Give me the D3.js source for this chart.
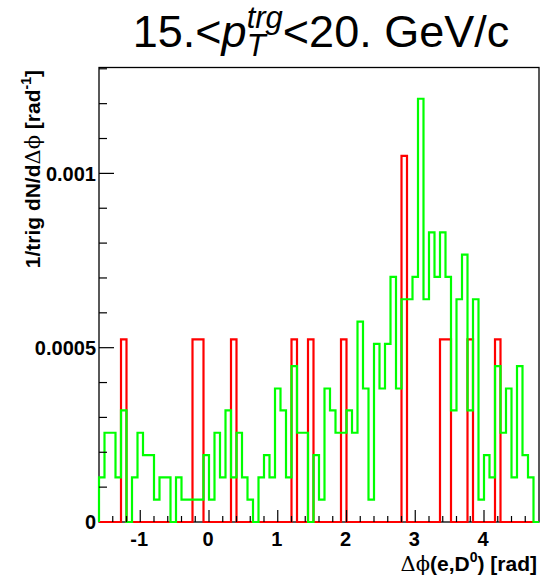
<!DOCTYPE html>
<html>
<head>
<meta charset="utf-8">
<script src="https://cdn.jsdelivr.net/npm/d3@7"></script>
<style>
  body { margin: 0; background: #fff; }
  text { font-family: "Liberation Sans", Arial, Helvetica, sans-serif; }
  .bold { font-weight: bold; }
  .sym { font-family: "DejaVu Serif", "Liberation Serif", serif; font-weight: normal; }
</style>
</head>
<body>
<svg id="svg"></svg>
<script>
// Histogram range and binning (80 bins)
const xLow = -1.6, xHigh = 4.8;

// Red histogram (one entry ~ 5.24e-4)
const redValues = [
  0, 0, 0, 0, 5.24e-4, 0, 0, 0, 0, 0,
  0, 0, 0, 0, 0, 0, 0, 5.24e-4, 5.24e-4, 0,
  0, 0, 0, 0, 5.24e-4, 0, 0, 0, 0, 0,
  0, 0, 0, 0, 0, 5.24e-4, 0, 0, 5.24e-4, 0,
  0, 0, 0, 0, 5.24e-4, 0, 0, 0, 0, 0,
  0, 0, 0, 0, 0, 10.5e-4, 0, 0, 0, 0,
  0, 0, 5.24e-4, 5.24e-4, 0, 0, 0, 5.24e-4, 0, 0,
  0, 0, 5.24e-4, 0, 0, 0, 0, 0, 0, 0
];

// Green histogram
const greenValues = [
  1.28e-4, 2.56e-4, 2.56e-4, 1.28e-4, 3.20e-4, 0, 1.28e-4, 2.56e-4, 1.92e-4, 1.92e-4,
  0.64e-4, 1.28e-4, 1.28e-4, 0, 1.28e-4, 0.64e-4, 0.64e-4, 0.64e-4, 0.64e-4, 1.92e-4,
  0.64e-4, 2.56e-4, 1.28e-4, 3.20e-4, 1.28e-4, 2.56e-4, 1.28e-4, 0.64e-4, 0, 1.28e-4,
  1.92e-4, 1.28e-4, 3.83e-4, 3.20e-4, 1.28e-4, 4.47e-4, 2.56e-4, 2.56e-4, 0, 1.92e-4,
  0.64e-4, 3.83e-4, 3.20e-4, 2.56e-4, 2.56e-4, 3.20e-4, 2.56e-4, 5.75e-4, 3.83e-4, 0.64e-4,
  5.11e-4, 3.83e-4, 5.11e-4, 7.03e-4, 3.83e-4, 6.39e-4, 6.39e-4, 7.03e-4, 12.14e-4, 6.39e-4,
  8.31e-4, 7.03e-4, 8.31e-4, 7.03e-4, 3.20e-4, 6.39e-4, 7.67e-4, 3.20e-4, 6.39e-4, 0.64e-4,
  1.92e-4, 1.28e-4, 4.47e-4, 2.56e-4, 3.83e-4, 1.28e-4, 4.47e-4, 1.92e-4, 1.28e-4, 0
];

const xMajorTicks = [-1, 0, 1, 2, 3, 4];
const yMajorTicks = [0, 0.0005, 0.001];
const yTickLabels = ["0", "0.0005", "0.001"];

const width = 549, height = 585;
const frame = { left: 99, right: 539, top: 67.5, bottom: 522 };

const svg = d3.select("#svg").attr("width", width).attr("height", height);

const x = d3.scaleLinear().domain([xLow, xHigh]).range([frame.left, frame.right]);
const y = d3.scaleLinear().domain([0, 0.0013037]).range([frame.bottom, frame.top]);

// Frame
svg.append("rect")
    .attr("x", frame.left).attr("y", frame.top)
    .attr("width", frame.right - frame.left)
    .attr("height", frame.bottom - frame.top)
    .attr("fill", "none")
    .attr("stroke", "#000")
    .attr("stroke-width", 1.3);

// Step outline like ROOT "hist"
function stepPoints(values) {
    const bw = (xHigh - xLow) / values.length;
    const pts = [[x(xLow), y(0)]];
    values.forEach((v, i) => {
        pts.push([x(xLow + i * bw), y(v)]);
        pts.push([x(xLow + (i + 1) * bw), y(v)]);
    });
    pts.push([x(xHigh), y(0)]);
    return pts;
}

const line = d3.line();

svg.append("path")
    .attr("d", line(stepPoints(redValues)))
    .attr("fill", "none")
    .attr("stroke", "#ff0000")
    .attr("stroke-width", 2.2);

svg.append("path")
    .attr("d", line(stepPoints(greenValues)))
    .attr("fill", "none")
    .attr("stroke", "#00ff00")
    .attr("stroke-width", 2.2);

// X ticks
const xMinor = d3.range(-14, 47, 2).map(d => d / 10);
svg.selectAll(".xminor")
    .data(xMinor)
    .join("line")
    .attr("x1", d => x(d)).attr("x2", d => x(d))
    .attr("y1", frame.bottom).attr("y2", d => frame.bottom - (Math.abs(d - Math.round(d)) < 1e-6 ? 12 : 6))
    .attr("stroke", "#000")
    .attr("stroke-width", 1.2);

svg.selectAll(".xlabel")
    .data(xMajorTicks)
    .join("text")
    .attr("class", "bold")
    .attr("x", d => x(d) - 1)
    .attr("y", 546)
    .attr("text-anchor", "middle")
    .style("font-size", "20px")
    .text(d => d);

// Y ticks
const yMinor = d3.range(1, 14).map(d => d * 0.0001);
svg.selectAll(".ytick")
    .data(yMinor)
    .join("line")
    .attr("x1", frame.left)
    .attr("x2", d => frame.left + (d % 0.0005 < 1e-9 || 0.0005 - (d % 0.0005) < 1e-9 ? 15 : 8))
    .attr("y1", d => y(d)).attr("y2", d => y(d))
    .attr("stroke", "#000")
    .attr("stroke-width", 1.2);

svg.selectAll(".ylabel")
    .data(yMajorTicks)
    .join("text")
    .attr("class", "bold")
    .attr("x", 96)
    .attr("y", d => y(d))
    .attr("dy", "0.36em")
    .attr("text-anchor", "end")
    .style("font-size", "20px")
    .text((d, i) => yTickLabels[i]);

// X axis title
const xt = svg.append("text")
    .attr("x", 537).attr("y", 571)
    .attr("text-anchor", "end")
    .style("font-size", "21px");
xt.append("tspan").attr("class", "sym").text("Δϕ");
xt.append("tspan").attr("class", "bold").text("(e,D");
xt.append("tspan").attr("class", "bold").attr("dy", -9).style("font-size", "14px").text("0");
xt.append("tspan").attr("class", "bold").attr("dy", 9).text(") [rad]");

// Y axis title
const yt = svg.append("text")
    .attr("transform", "translate(40,70) rotate(-90)")
    .attr("text-anchor", "end")
    .style("font-size", "21px");
yt.append("tspan").attr("class", "bold").text("1/trig dN/d");
yt.append("tspan").attr("class", "sym").text("Δϕ");
yt.append("tspan").attr("class", "bold").text(" [rad");
yt.append("tspan").attr("class", "bold").attr("dy", -9).style("font-size", "14px").text("-1");
yt.append("tspan").attr("class", "bold").attr("dy", 9).text("]");

// Title
const title = svg.append("text")
    .attr("x", 321).attr("y", 47)
    .attr("text-anchor", "middle")
    .style("font-size", "45px");
title.append("tspan").text("15.<");
title.append("tspan").style("font-style", "italic").text("p");
const tSub = title.append("tspan").style("font-style", "italic").style("font-size", "31px").attr("dy", 9).text("T");
const tSup = title.append("tspan").style("font-style", "italic").style("font-size", "31px").attr("dy", -28).text("trg");
title.append("tspan").attr("dy", 19).text("<20. GeV/c");
tSup.attr("dx", -tSub.node().getComputedTextLength());
</script>
</body>
</html>
